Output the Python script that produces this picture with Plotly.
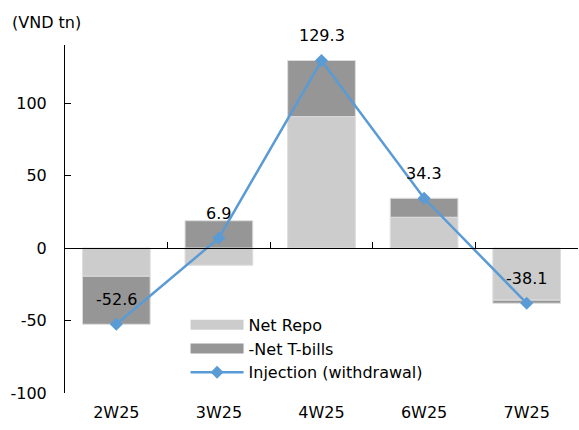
import plotly.graph_objects as go

# Weekly liquidity operations (VND trillion)
weeks = ["2W25", "3W25", "4W25", "6W25", "7W25"]
net_repo = [-19.5, -11.9, 90.6, 21.2, -36.0]
net_tbills = [-33.1, 18.8, 38.7, 13.1, -2.1]
injection = [-52.6, 6.9, 129.3, 34.3, -38.1]
y_ticks = [-100, -50, 0, 50, 100]
y_tick_text = ["-100", "-50", "0", "50", "100"]

FONT = "DejaVu Sans"
BLUE = "#5B9BD5"
LIGHT = "#CCCCCC"
DARK = "#969696"

fig = go.Figure()

fig.add_trace(go.Bar(
    x=weeks, y=net_repo, name="Net Repo", legendgroup="repo", showlegend=False,
    marker=dict(color=LIGHT, line=dict(color="#DDDDDD", width=1)),
))
fig.add_trace(go.Bar(
    x=weeks, y=net_tbills, name="-Net T-bills", legendgroup="tbills", showlegend=False,
    marker=dict(color=DARK, line=dict(color="#DDDDDD", width=1)),
))

# wide rectangular legend keys for the two bar series
for name, group, color in [("Net Repo", "repo", LIGHT), ("-Net T-bills", "tbills", DARK)]:
    fig.add_trace(go.Scatter(
        x=[None], y=[None], name=name, legendgroup=group, mode="lines",
        line=dict(color=color, width=11), hoverinfo="skip",
    ))

fig.add_trace(go.Scatter(
    x=weeks, y=injection, name="Injection (withdrawal)",
    mode="lines+markers", xaxis="x2",
    line=dict(color=BLUE, width=2.5),
    marker=dict(symbol="diamond", size=10, color=BLUE),
))

# value labels above each injection point
for w, v in zip(weeks, injection):
    fig.add_annotation(
        x=w, y=v, xref="x", yref="y", text=f"{v:.1f}",
        showarrow=False, yshift=25,
        font=dict(family=FONT, size=16, color="#000000"),
    )

fig.add_annotation(
    xref="paper", yref="paper", x=-0.107, y=1.066,
    xanchor="left", yanchor="middle", text="(VND tn)", showarrow=False,
    font=dict(family=FONT, size=16, color="#000000"),
)

y_min, y_max = -100, 140
zero_pos = (0 - y_min) / (y_max - y_min)

fig.update_layout(
    width=579, height=430,
    margin=dict(l=65, r=1, t=45, b=37),
    paper_bgcolor="white", plot_bgcolor="white",
    barmode="relative", bargap=0.34,
    font=dict(family=FONT, size=16, color="#000000"),
    xaxis=dict(
        type="category", categoryorder="array", categoryarray=weeks,
        showline=False, ticks="", showgrid=False, zeroline=False,
        ticklabelstandoff=8,
        tickfont=dict(family=FONT, size=16, color="#000000"),
    ),
    xaxis2=dict(
        type="category", categoryorder="array", categoryarray=weeks,
        overlaying="x", matches="x", anchor="free", position=zero_pos,
        showline=True, linecolor="#000000", linewidth=1,
        ticks="inside", tickson="boundaries", ticklen=6,
        tickcolor="#000000", showticklabels=False, showgrid=False,
    ),
    yaxis=dict(
        range=[y_min, y_max], tickvals=y_ticks, ticktext=y_tick_text,
        showline=True, linecolor="#000000", linewidth=1,
        ticks="inside", ticklen=6, tickcolor="#000000",
        showgrid=False, zeroline=False, ticklabelstandoff=14,
        tickfont=dict(family=FONT, size=16, color="#000000"),
    ),
    legend=dict(
        x=0.235, y=0.245, xanchor="left", yanchor="top",
        bgcolor="rgba(0,0,0,0)", traceorder="normal",
        itemwidth=53, tracegroupgap=0,
        font=dict(family=FONT, size=16, color="#000000"),
    ),
)

fig.write_html("out.html")
